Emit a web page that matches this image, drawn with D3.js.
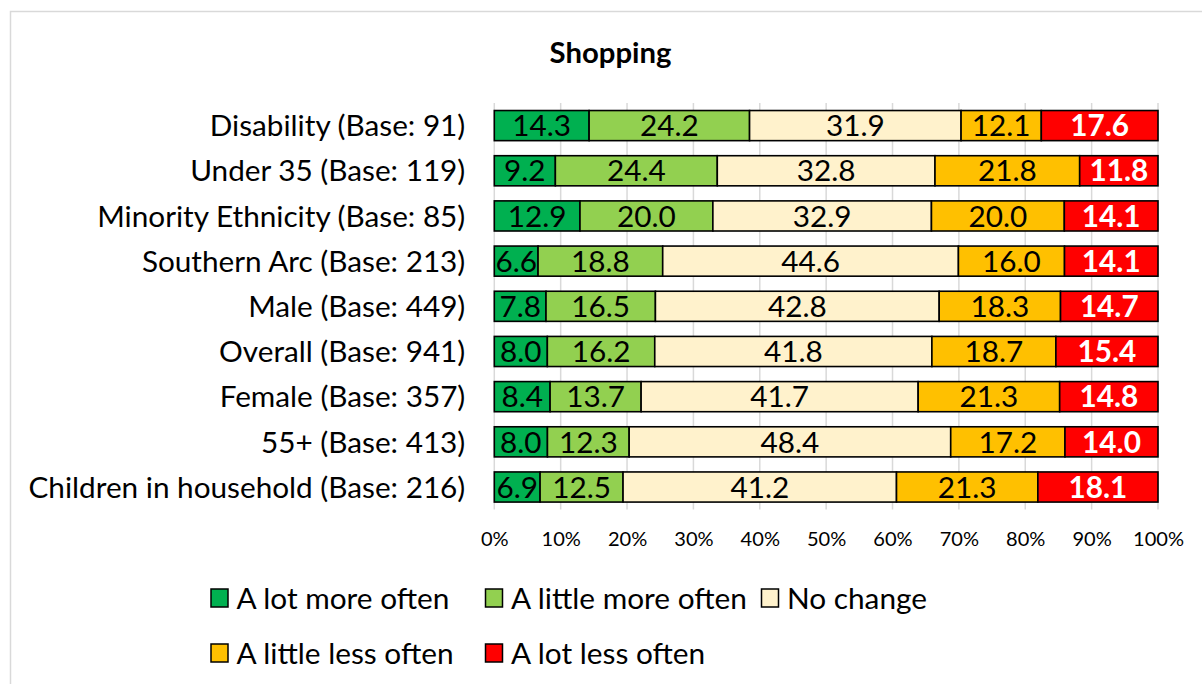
<!DOCTYPE html>
<html><head><meta charset="utf-8">
<script src="https://cdn.jsdelivr.net/npm/d3@7"></script>
<style>html,body{margin:0;padding:0;background:#fff;}svg{display:block;}</style>
</head><body>
<svg id="chart" width="1202" height="684"></svg>
<script>
const title = "Shopping";
const categories = [
  "Disability (Base: 91)",
  "Under 35 (Base: 119)",
  "Minority Ethnicity (Base: 85)",
  "Southern Arc (Base: 213)",
  "Male (Base: 449)",
  "Overall (Base: 941)",
  "Female (Base: 357)",
  "55+ (Base: 413)",
  "Children in household (Base: 216)"
];
const seriesNames = ["A lot more often","A little more often","No change","A little less often","A lot less often"];
const seriesColors = ["#00B050","#92D050","#FFF2CC","#FFC000","#FF0000"];
const aLotMore   = [14.3, 9.2, 12.9, 6.6, 7.8, 8.0, 8.4, 8.0, 6.9];
const aLittleMore= [24.2,24.4, 20.0,18.8,16.5,16.2,13.7,12.3,12.5];
const noChange   = [31.9,32.8, 32.9,44.6,42.8,41.8,41.7,48.4,41.2];
const aLittleLess= [12.1,21.8, 20.0,16.0,18.3,18.7,21.3,17.2,21.3];
const aLotLess   = [17.6,11.8, 14.1,14.1,14.7,15.4,14.8,14.0,18.1];
const tickValues = [0,0.1,0.2,0.3,0.4,0.5,0.6,0.7,0.8,0.9,1.0];

const series = [aLotMore,aLittleMore,noChange,aLittleLess,aLotLess];
const FONT = "Lato, 'Open Sans', sans-serif";

const svg = d3.select("#chart");
svg.append("rect").attr("width",1202).attr("height",684).attr("fill","#fff");
svg.append("rect").attr("x",10.5).attr("y",11.5).attr("width",1210).attr("height",700)
  .attr("fill","none").attr("stroke","#d9d9d9").attr("stroke-width",1.5);

function fit(text, weight, target){
  const t = svg.append("text").attr("font-family",FONT).attr("font-weight",weight)
    .attr("font-size",100).text(text);
  const w = t.node().getComputedTextLength(); t.remove();
  return 100*target/w;
}
const labelSize = fit("Children in household (Base: 216)", 400, 437);
const valueSize = labelSize;
const tickSize = fit("100%", 400, 51);
const titleSize = fit("Shopping", 700, 122);
const legendSize = fit("A lot more often", 400, 213);

const x = d3.scaleLinear().domain([0,1]).range([494.3,1158]);
const y = d3.scaleBand().domain(categories).range([103,509.6]).paddingInner(1/3).paddingOuter(1/6);

svg.append("g").selectAll("line").data(tickValues).join("line")
  .attr("x1",d=>x(d)).attr("x2",d=>x(d)).attr("y1",103).attr("y2",509.6)
  .attr("stroke","#d9d9d9").attr("stroke-width",1.5);

const rows = categories.map((c,i)=>{
  const vals = series.map(s=>s[i]);
  const tot = d3.sum(vals);
  let acc = 0;
  return vals.map((v,k)=>{ const s0 = acc/tot; acc += v; return {cat:c, k, v, x0:s0, x1:acc/tot}; });
});
const segs = rows.flat();

svg.append("g").selectAll("rect").data(segs).join("rect")
  .attr("x",d=>x(d.x0)).attr("width",d=>x(d.x1)-x(d.x0))
  .attr("y",d=>y(d.cat)).attr("height",y.bandwidth())
  .attr("fill",d=>seriesColors[d.k]).attr("stroke","#000").attr("stroke-width",1.6);

svg.append("g").selectAll("text").data(segs).join("text")
  .attr("x",d=>(x(d.x0)+x(d.x1))/2).attr("y",d=>y(d.cat)+y.bandwidth()/2)
  .attr("dy","0.36em").attr("text-anchor","middle")
  .attr("font-family",FONT).attr("font-size",valueSize)
  .attr("font-weight",d=>d.k===4?700:400)
  .attr("fill",d=>d.k===4?"#fff":"#000")
  .text(d=>d.v.toFixed(1));

const yAxis = svg.append("g").attr("transform","translate(494.3,0)")
  .call(d3.axisLeft(y).tickSize(0).tickPadding(29));
yAxis.select(".domain").remove();
yAxis.selectAll("text").attr("font-family",FONT).attr("font-size",labelSize).attr("fill","#000").attr("dy","0.36em");

const xAxis = svg.append("g").attr("transform","translate(0,509.6)")
  .call(d3.axisBottom(x).tickValues(tickValues).tickFormat(d3.format(".0%")).tickSize(0).tickPadding(22));
xAxis.select(".domain").remove();
xAxis.selectAll("text").attr("font-family",FONT).attr("font-size",tickSize).attr("fill","#000");

svg.append("text").attr("x",610.5).attr("y",52).attr("dy","0.36em").attr("text-anchor","middle")
  .attr("font-family",FONT).attr("font-weight",700).attr("font-size",titleSize).text(title);

const legendPos = [[210.5,598],[485,598],[761,598],[210.5,653],[485,653]];
const lg = svg.append("g").selectAll("g").data(seriesNames).join("g")
  .attr("transform",(d,i)=>`translate(${legendPos[i][0]},${legendPos[i][1]})`);
lg.append("rect").attr("x",0.5).attr("y",-9).attr("width",17).attr("height",18)
  .attr("fill",(d,i)=>seriesColors[i]).attr("stroke","#000").attr("stroke-width",1.5);
lg.append("text").attr("x",26).attr("dy","0.36em").attr("font-family",FONT).attr("font-size",legendSize)
  .attr("fill","#000").text(d=>d);
</script>
</body></html>
